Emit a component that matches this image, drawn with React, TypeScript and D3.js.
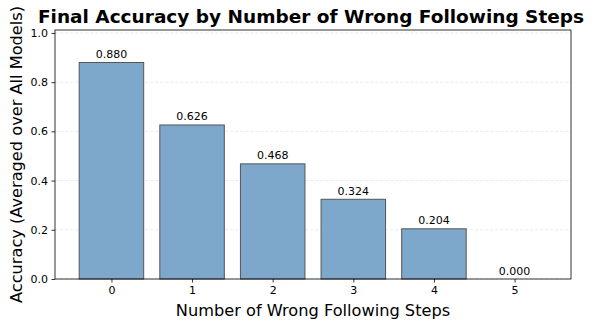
import { useEffect, useRef } from 'react'
import * as d3 from 'd3'

const steps = ['0', '1', '2', '3', '4', '5']
const accuracy = [0.88, 0.626, 0.468, 0.324, 0.204, 0.0]
const yTicks = [0, 0.2, 0.4, 0.6, 0.8, 1.0]

const App = () => {
  const ref = useRef<SVGSVGElement>(null)

  useEffect(() => {
    const svg = d3.select(ref.current)
    svg.selectAll('*').remove()

    const margin = { top: 30, left: 55, right: 27, bottom: 49 }
    const width = 598 - margin.left - margin.right
    const height = 328 - margin.top - margin.bottom
    const font = 'DejaVu Sans, sans-serif'

    // x is linear so the bars sit at integer positions like matplotlib
    const x = d3.scaleLinear().domain([-0.7, 5.7]).range([0, width])
    const y = d3.scaleLinear().domain([0, 1.012]).range([height, 0])
    const barW = x(0.8) - x(0)

    const g = svg.append('g')
      .attr('transform', `translate(${margin.left},${margin.top})`)

    // grid
    g.selectAll('line.grid')
      .data(yTicks)
      .enter().append('line')
      .attr('class', 'grid')
      .attr('x1', 0).attr('x2', width)
      .attr('y1', d => y(d)).attr('y2', d => y(d))
      .attr('stroke', '#b0b0b0')
      .attr('stroke-opacity', 0.3)
      .attr('stroke-dasharray', '3.5,1.5')
      .attr('stroke-width', 0.8)

    // bars
    g.selectAll('rect.bar')
      .data(accuracy)
      .enter().append('rect')
      .attr('class', 'bar')
      .attr('x', (d, i) => x(i) - barW / 2)
      .attr('width', barW)
      .attr('y', d => y(d))
      .attr('height', d => y(0) - y(d))
      .attr('fill', 'rgb(126,168,203)')
      .attr('stroke', '#555')
      .attr('stroke-width', 1)

    // value labels
    g.selectAll('text.val')
      .data(accuracy)
      .enter().append('text')
      .attr('class', 'val')
      .attr('x', (d, i) => x(i))
      .attr('y', d => y(d) - 4.5)
      .attr('text-anchor', 'middle')
      .attr('font-family', font)
      .attr('font-size', 11)
      .attr('fill', '#000')
      .text(d => d.toFixed(3))

    // axes
    const yAxis = g.append('g')
      .call(d3.axisLeft(y).tickValues(yTicks).tickFormat(d3.format('.1f')).tickSize(3.5).tickPadding(3.5))
    yAxis.select('.domain').remove()
    yAxis.selectAll('text').attr('font-family', font).attr('font-size', 11).attr('fill', '#000')
    yAxis.selectAll('line').attr('stroke', '#000').attr('stroke-width', 0.8)

    const xAxis = g.append('g')
      .attr('transform', `translate(0,${height})`)
      .call(d3.axisBottom(x).tickValues(steps.map(Number)).tickFormat((d, i) => steps[i]).tickSize(3.5).tickPadding(3.5))
    xAxis.select('.domain').remove()
    xAxis.selectAll('text').attr('font-family', font).attr('font-size', 11).attr('fill', '#000')
    xAxis.selectAll('line').attr('stroke', '#000').attr('stroke-width', 0.8)

    // frame
    g.append('rect')
      .attr('width', width).attr('height', height)
      .attr('fill', 'none').attr('stroke', '#000').attr('stroke-width', 0.8)

    // labels
    svg.append('text')
      .attr('x', margin.left + width / 2)
      .attr('y', 316)
      .attr('text-anchor', 'middle')
      .attr('font-family', font)
      .attr('font-size', 16.2)
      .text('Number of Wrong Following Steps')

    svg.append('text')
      .attr('transform', `translate(22,${margin.top + height / 2}) rotate(-90)`)
      .attr('text-anchor', 'middle')
      .attr('font-family', font)
      .attr('font-size', 16.2)
      .text('Accuracy (Averaged over All Models)')

    svg.append('text')
      .attr('x', 311)
      .attr('y', 23)
      .attr('text-anchor', 'middle')
      .attr('font-family', font)
      .attr('font-size', 18.5)
      .attr('font-weight', 'bold')
      .text('Final Accuracy by Number of Wrong Following Steps')
  }, [])

  return (
    <svg ref={ref} width={598} height={328}
      style={{ position: 'absolute', left: 0, top: 0, background: '#fff' }} />
  )
}

export default App
